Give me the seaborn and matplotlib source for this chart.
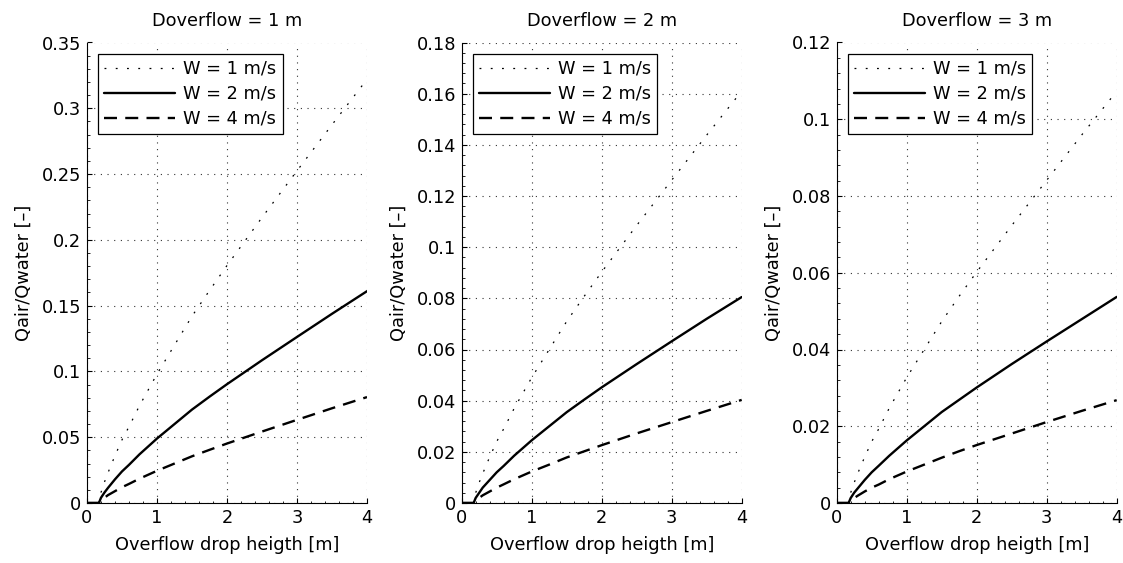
import matplotlib
matplotlib.use("Agg")
import matplotlib.pyplot as plt
import seaborn as sns
import pandas as pd
from matplotlib.ticker import MultipleLocator, AutoMinorLocator, FuncFormatter

# ---- data ----
drop_height = [0, 0.17, 0.2, 0.25, 0.3, 0.4, 0.5, 0.6, 0.75, 1, 1.25, 1.5, 1.75,
               2, 2.5, 3, 3.5, 4]

d1_w1 = [0, 0, 0.008, 0.016, 0.023, 0.036, 0.048, 0.058, 0.074, 0.098, 0.120,
         0.142, 0.1615, 0.1805, 0.217, 0.2525, 0.2875, 0.322]
d1_w2 = [0, 0, 0.004, 0.008, 0.0115, 0.018, 0.024, 0.029, 0.037, 0.049, 0.060,
         0.071, 0.0808, 0.0903, 0.1085, 0.1262, 0.1438, 0.161]
d1_w4 = [0, 0, 0.002, 0.004, 0.006, 0.009, 0.012, 0.0145, 0.0185, 0.0245, 0.030,
         0.0355, 0.0404, 0.0452, 0.0543, 0.0632, 0.0720, 0.0805]

d2_w1 = [0, 0, 0.004, 0.008, 0.0115, 0.018, 0.024, 0.029, 0.037, 0.049, 0.060,
         0.071, 0.0808, 0.0903, 0.1085, 0.1262, 0.1438, 0.161]
d2_w2 = [0, 0, 0.002, 0.004, 0.006, 0.009, 0.012, 0.0145, 0.0185, 0.0245, 0.030,
         0.0355, 0.0404, 0.0452, 0.0543, 0.0632, 0.0720, 0.0805]
d2_w4 = [0, 0, 0.001, 0.002, 0.003, 0.0045, 0.006, 0.0073, 0.0093, 0.0123, 0.015,
         0.0178, 0.0202, 0.0226, 0.0272, 0.0316, 0.036, 0.0403]

d3_w1 = [0, 0, 0.0027, 0.0053, 0.0077, 0.012, 0.016, 0.0193, 0.0247, 0.0327,
         0.040, 0.0473, 0.0539, 0.0602, 0.0723, 0.0841, 0.0959, 0.1073]
d3_w2 = [0, 0, 0.0013, 0.0027, 0.0038, 0.006, 0.008, 0.0097, 0.0123, 0.0163,
         0.020, 0.0237, 0.0269, 0.0301, 0.0362, 0.0421, 0.0479, 0.0537]
d3_w4 = [0, 0, 0.0007, 0.0013, 0.0019, 0.003, 0.004, 0.0048, 0.0062, 0.0082,
         0.010, 0.0118, 0.0135, 0.0151, 0.0181, 0.0211, 0.024, 0.0268]

titles = ["Doverflow = 1 m", "Doverflow = 2 m", "Doverflow = 3 m"]
series_labels = ["W = 1 m/s", "W = 2 m/s", "W = 4 m/s"]
y_max = [0.35, 0.18, 0.12]
y_step = [0.05, 0.02, 0.02]
x_label = "Overflow drop heigth [m]"
y_label = "Qair/Qwater [–]"

panels = [(d1_w1, d1_w2, d1_w4), (d2_w1, d2_w2, d2_w4), (d3_w1, d3_w2, d3_w4)]

# ---- styling ----
sns.set_style("ticks")
plt.rcParams['font.family'] = ['DejaVu Sans']
plt.rcParams['font.size'] = 12.8
plt.rcParams['text.color'] = 'black'
plt.rcParams['axes.labelcolor'] = 'black'
plt.rcParams['xtick.color'] = 'black'
plt.rcParams['ytick.color'] = 'black'

styles = [
    dict(linestyle=(0, (1.5, 7.5)), linewidth=0.9),
    dict(linestyle="-", linewidth=1.7),
    dict(linestyle=(0, (5.5, 3.5)), linewidth=1.7),
]

fig = plt.figure(figsize=(11.23, 5.63), dpi=100)
W, H = 1123, 563
lefts = [87, 461.7, 836.7]
ax_w = 280
ax_bottom = 60
ax_h = 460.5

fmt = FuncFormatter(lambda v, p: f"{v:g}")

for i, series in enumerate(panels):
    ax = fig.add_axes([lefts[i] / W, ax_bottom / H, ax_w / W, ax_h / H])
    for ys, lab, st in zip(series, series_labels, styles):
        df = pd.DataFrame({"x": drop_height, "y": ys})
        sns.lineplot(data=df, x="x", y="y", ax=ax, color="black", label=lab,
                     **st)
    ax.set_xlim(0, 4)
    ax.set_ylim(0, y_max[i])
    ax.xaxis.set_major_locator(MultipleLocator(1))
    ax.xaxis.set_minor_locator(AutoMinorLocator(5))
    ax.yaxis.set_major_locator(MultipleLocator(y_step[i]))
    ax.yaxis.set_minor_locator(AutoMinorLocator(5))
    ax.yaxis.set_major_formatter(fmt)
    ax.xaxis.set_major_formatter(fmt)
    ax.tick_params(which="major", direction="in", length=3.5, width=0.8,
                   labelsize=12.8, pad=4, colors="black")
    ax.tick_params(which="minor", direction="in", length=1.8, width=0.6)
    ax.grid(True, which="major", linestyle=(0, (1, 5)), linewidth=0.8,
            color="#333333")
    for s in ["top", "right"]:
        ax.spines[s].set_visible(False)
    for s in ["left", "bottom"]:
        ax.spines[s].set_color("black")
        ax.spines[s].set_linewidth(0.8)
    ax.set_xlabel(x_label, fontsize=12.8, labelpad=7)
    ax.set_ylabel(y_label, fontsize=12.8, labelpad=6.5)
    ax.set_title(titles[i], fontsize=12.8, pad=12)
    leg = ax.legend(loc="upper left", frameon=True, fancybox=False,
                    framealpha=1, edgecolor="black", fontsize=12.8,
                    handlelength=4.0, handletextpad=0.45, borderpad=0.35,
                    borderaxespad=0.62, labelspacing=0.4)
    leg.get_frame().set_linewidth(0.9)

fig.savefig("out.png", dpi=100)
